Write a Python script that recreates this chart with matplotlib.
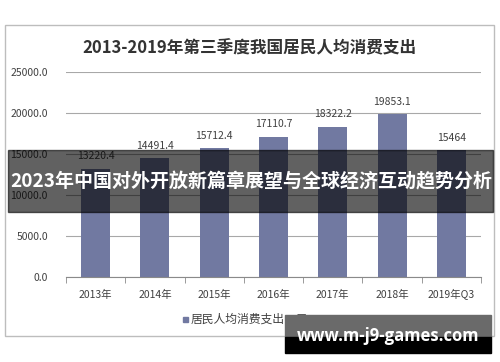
import numpy as np
import matplotlib.pyplot as plt
from matplotlib.patches import Rectangle

plt.rcParams['font.family'] = ['Noto Sans CJK SC', 'DejaVu Sans']

years = ['2013年', '2014年', '2015年', '2016年', '2017年', '2018年', '2019年Q3']
spending = [13220.4, 14491.4, 15712.4, 17110.7, 18322.2, 19853.1, 15464]
value_labels = ['13220.4', '14491.4', '15712.4', '17110.7', '18322.2', '19853.1', '15464']
yticks = [0, 5000, 10000, 15000, 20000, 25000]

W, H = 500, 362
fig = plt.figure(figsize=(W / 100, H / 100), dpi=100)
fig.patch.set_facecolor('white')


def fx(px):
    return px / W


def fy(py):
    return 1 - py / H


# outer chart frame
fig.patches.append(Rectangle((fx(5), fy(336)), fx(489), (336 - 25) / H,
                             transform=fig.transFigure, fill=False,
                             edgecolor='#bdbdbd', lw=1.0, zorder=0))

ax = fig.add_axes([fx(66), fy(277), fx(481 - 66), (277 - 72) / H])
x = np.arange(len(years))
bar_color = '#7179a1'
ax.bar(x, spending, width=0.49, color=bar_color, zorder=3)

for xi, v, lab in zip(x, spending, value_labels):
    ax.text(xi, v + 900, lab, ha='center', va='bottom', fontsize=7.5,
            color='#404040', zorder=4)

ax.set_xlim(-0.5, len(years) - 0.5)
ax.set_ylim(0, 25000)
ax.set_yticks(yticks)
ax.set_yticklabels([f'{t:.1f}' for t in yticks])
ax.set_xticks(x)
ax.set_xticklabels(years)
ax.set_xticks(np.arange(len(years) + 1) - 0.5, minor=True)
ax.tick_params(axis='x', which='major', length=0, pad=9, labelsize=7.5,
               labelcolor='#404040')
ax.tick_params(axis='x', which='minor', length=4, color='#8a8a8a', direction='out')
ax.tick_params(axis='y', length=0, pad=13, labelsize=7.5, labelcolor='#404040')
ax.yaxis.grid(True, color='#a8a8a8', lw=0.8, zorder=0)
for s in ['top', 'right', 'left']:
    ax.spines[s].set_visible(False)
ax.spines['bottom'].set_color('#8a8a8a')
ax.spines['bottom'].set_zorder(5)

fig.text(fx(249), fy(48), '2013-2019年第三季度我国居民人均消费支出', ha='center',
         va='center', fontsize=12, fontweight='bold', color='#333333')

# legend
fig.patches.append(Rectangle((fx(183), fy(322)), fx(5), 5 / H,
                             transform=fig.transFigure, color=bar_color))
fig.text(fx(191), fy(319), '居民人均消费支出：元', ha='left', va='center',
         fontsize=8.5, color='#404040')

# overlay banner
fig.patches.append(Rectangle((fx(8), fy(212)), fx(485), (212 - 150) / H,
                             transform=fig.transFigure, color='black',
                             alpha=0.62, zorder=10))
fig.text(fx(251), fy(182), '2023年中国对外开放新篇章展望与全球经济互动趋势分析',
         ha='center', va='center', fontsize=13.7, fontweight='bold',
         color='white', zorder=11)

# watermark box
fig.patches.append(Rectangle((fx(285), fy(337)), fx(206), (337 - 315) / H,
                             transform=fig.transFigure, color='#6a6a6a', zorder=10))
fig.patches.append(Rectangle((fx(285), fy(353)), fx(206), (353 - 337) / H,
                             transform=fig.transFigure, color='black', zorder=10))
fig.text(fx(388), fy(336), 'www.m-j9-games.com', ha='center', va='center',
         fontsize=12, fontweight='bold', color='white', zorder=11,
         family=['Open Sans', 'DejaVu Sans'])

fig.savefig('out.png', dpi=100)
